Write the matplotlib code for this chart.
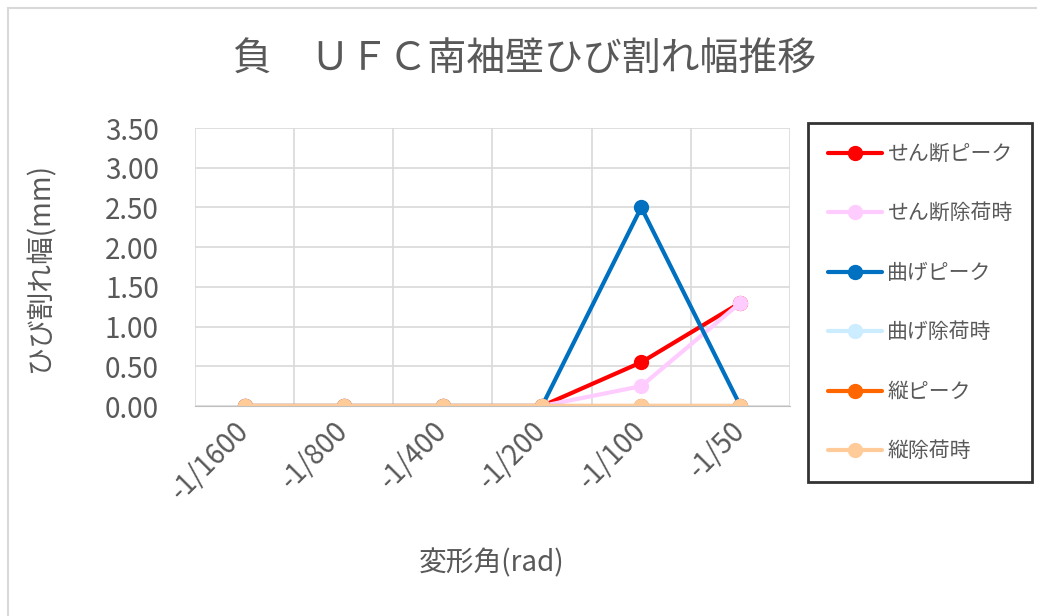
import numpy as np
import matplotlib
matplotlib.use("Agg")
import matplotlib.pyplot as plt
from matplotlib.patches import Rectangle

plt.rcParams['font.family'] = ['Noto Sans CJK JP', 'DejaVu Sans']

# 変形角ごとのひび割れ幅 (mm)
angles = ['-1/1600', '-1/800', '-1/400', '-1/200', '-1/100', '-1/50']
shear_peak = [0, 0, 0, 0, 0.55, 1.30]
shear_unload = [0, 0, 0, 0, 0.25, 1.30]
bend_peak = [0, 0, 0, 0, 2.50, 0]
bend_unload = [0, 0, 0, 0, 0, 0]
vert_peak = [0, 0, 0, 0, 0, 0]
vert_unload = [0, 0, 0, 0, 0, 0]

series = [
    ('せん断ピーク', shear_peak, '#FF0000'),
    ('せん断除荷時', shear_unload, '#FFCCFF'),
    ('曲げピーク', bend_peak, '#0070C0'),
    ('曲げ除荷時', bend_unload, '#CCECFF'),
    ('縦ピーク', vert_peak, '#FF6600'),
    ('縦除荷時', vert_unload, '#FFCC99'),
]

txt = '#595959'
W, H = 1037, 616
fig = plt.figure(figsize=(W / 100, H / 100), dpi=100)
# chart area border
fig.patches.append(Rectangle((8 / W, -0.01), 1.0, 1 - 8 / H + 0.01, transform=fig.transFigure,
                             fill=False, edgecolor='#D9D9D9', linewidth=1.5))

ax = fig.add_axes([195 / W, 1 - 406 / H, 595 / W, 278 / H])
x = np.arange(len(angles))
for name, vals, col in series:
    ax.plot(x, vals, color=col, linewidth=3, marker='o', markersize=10,
            label=name, solid_capstyle='round')

ax.set_xlim(-0.5, len(angles) - 0.5)
ax.set_ylim(0, 3.5)
yt = np.arange(0, 3.51, 0.5)
ax.set_yticks(yt)
ax.set_yticklabels([f'{v:.2f}' for v in yt])
ax.set_xticks(x)
ax.set_xticklabels(angles, rotation=45, ha='right', va='center', rotation_mode='anchor')
ax.set_xticks(np.arange(-0.5, len(angles), 1), minor=True)
ax.grid(True, which='minor', axis='x', color='#D9D9D9', linewidth=1.2)
ax.grid(True, which='major', axis='y', color='#D9D9D9', linewidth=1.2)
ax.set_axisbelow(True)
ax.tick_params(axis='both', which='both', length=0, labelsize=20, colors=txt)
ax.tick_params(axis='y', pad=26)
ax.tick_params(axis='x', pad=15)
for s in ['top', 'right', 'left']:
    ax.spines[s].set_visible(False)
ax.spines['bottom'].set_color('#BFBFBF')

fig.text(525 / W, 1 - 60 / H, '負　ＵＦＣ南袖壁ひび割れ幅推移', fontsize=28, color=txt,
         ha='center', va='center')
ax.set_ylabel('ひび割れ幅(mm)', fontsize=20, color=txt)
ax.yaxis.set_label_coords((40 - 195) / 595, 0.5)
ax.set_xlabel('変形角(rad)', fontsize=20, color=txt)
ax.xaxis.set_label_coords((492 - 195) / 595, (406 - 563) / 278)
ax.xaxis.label.set_va('center')
ax.yaxis.label.set_va('center')

leg = ax.legend(loc='upper left', bbox_to_anchor=(808 / W, 1 - 123 / H),
                bbox_transform=fig.transFigure, frameon=True, fancybox=False,
                fontsize=15, labelspacing=1.8, handlelength=2.6,
                handletextpad=0.25, borderpad=0.95, borderaxespad=0)
leg.get_frame().set_edgecolor('black')
leg.get_frame().set_linewidth(2)
for t in leg.get_texts():
    t.set_color(txt)

fig.savefig('out.png', dpi=100)
